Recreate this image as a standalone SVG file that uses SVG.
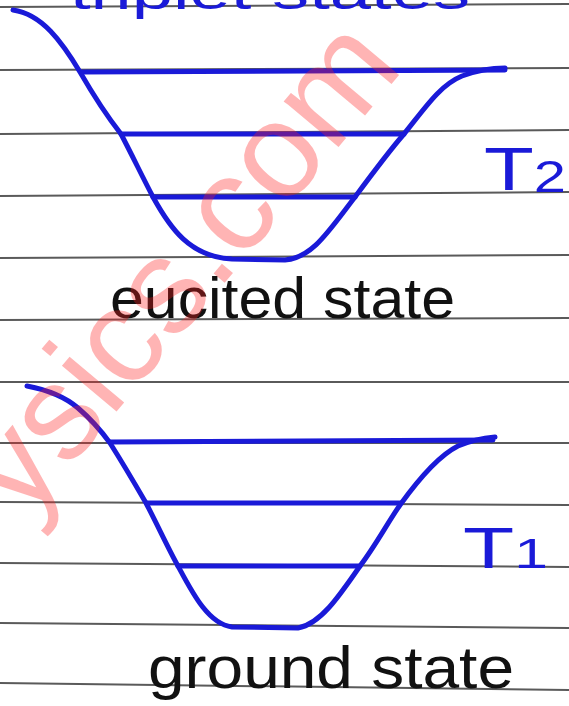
<svg xmlns="http://www.w3.org/2000/svg" width="569" height="706" viewBox="0 0 569 706">
<style>
.rule{stroke:#5a5a5a;stroke-width:2;fill:none}
.well{stroke:#1a1ad8;stroke-width:5;fill:none;stroke-linecap:round;stroke-linejoin:round}
.hand{font-family:"Liberation Sans","DejaVu Sans",sans-serif;fill:#111}
.blue{font-family:"Liberation Sans","DejaVu Sans",sans-serif;fill:#1a1ad8}
.wm{font-family:"Liberation Sans","DejaVu Sans",sans-serif;fill:#ff2020;opacity:0.33}
</style>
<rect width="569" height="706" fill="#ffffff"/>
<g id="paper-lines">
<line class="rule" x1="0" y1="7" x2="569" y2="4"/>
<line class="rule" x1="0" y1="70" x2="569" y2="68"/>
<line class="rule" x1="0" y1="134" x2="569" y2="130"/>
<line class="rule" x1="0" y1="196" x2="569" y2="192"/>
<line class="rule" x1="0" y1="258" x2="569" y2="255"/>
<line class="rule" x1="0" y1="320" x2="569" y2="318"/>
<line class="rule" x1="0" y1="382" x2="569" y2="382"/>
<line class="rule" x1="0" y1="443" x2="569" y2="443"/>
<line class="rule" x1="0" y1="502" x2="569" y2="505"/>
<line class="rule" x1="0" y1="563" x2="569" y2="567"/>
<line class="rule" x1="0" y1="623" x2="569" y2="628"/>
<line class="rule" x1="0" y1="683" x2="569" y2="690"/>
</g>
<text class="blue" x="70" y="9" font-size="48" textLength="400" lengthAdjust="spacingAndGlyphs">triplet states</text>
<g id="well-T2">
<path class="well" d="M13,10 C42,14 62,42 80,72 C95,98 110,120 121,134 C132,155 143,178 153,197 C170,228 190,257 232,259 L285,260 C312,258 328,232 355,197 C375,170 390,150 404,134 C425,108 440,85 462,76 C478,70 492,68 505,68"/>
<line class="well" x1="82" y1="72" x2="505" y2="70"/>
<line class="well" x1="121" y1="134" x2="404" y2="134"/>
<line class="well" x1="153" y1="197" x2="355" y2="197"/>
<text class="blue" x="484" y="190" font-size="62" textLength="82" lengthAdjust="spacingAndGlyphs">T<tspan font-size="44" dy="2">2</tspan></text>
</g>
<g id="well-T1">
<path class="well" d="M27,386 C48,390 64,396 78,408 C92,420 102,432 110,443 C122,462 135,484 146,503 C158,526 168,548 178,566 C192,592 208,624 232,627 L298,628 C320,624 338,598 360,566 C376,545 388,522 400,505 C418,480 438,456 458,446 C472,440 484,438 495,437"/>
<line class="well" x1="110" y1="442" x2="493" y2="440"/>
<line class="well" x1="147" y1="503" x2="400" y2="503"/>
<line class="well" x1="178" y1="566" x2="360" y2="566"/>
<text class="blue" x="463" y="568" font-size="58" textLength="85" lengthAdjust="spacingAndGlyphs">T<tspan font-size="42">1</tspan></text>
</g>
<g id="labels">
<text class="hand" x="110" y="318" font-size="58" textLength="345" lengthAdjust="spacingAndGlyphs">eucited state</text>
<text class="hand" x="148" y="688" font-size="60" textLength="366" lengthAdjust="spacingAndGlyphs">ground state</text>
</g>
<g id="watermark">
<text class="wm" x="0" y="0" font-size="135" transform="translate(24,522) rotate(-50)">ysics.com</text>
</g>
</svg>
